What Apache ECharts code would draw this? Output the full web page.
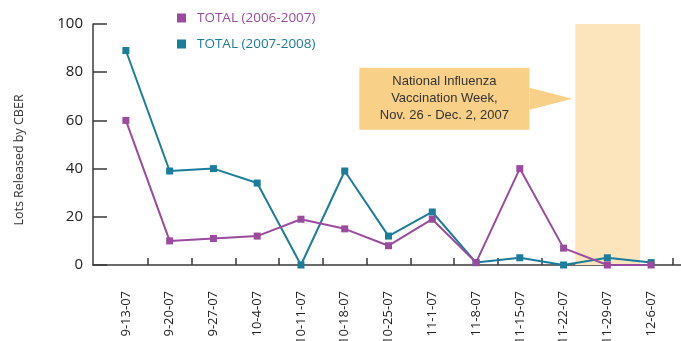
<!DOCTYPE html>
<html>
<head>
<meta charset="utf-8">
<title>Lots Released by CBER</title>
<script src="https://cdn.jsdelivr.net/npm/echarts@6/dist/echarts.min.js"></script>
<style>
    html, body { margin: 0; padding: 0; background: #fff; }
    #chart { width: 681px; height: 341px; }
</style>
</head>
<body>
<div id="chart"></div>
<script>
    var weeks = ['9-13-07', '9-20-07', '9-27-07', '10-4-07', '10-11-07', '10-18-07', '10-25-07',
                 '11-1-07', '11-8-07', '11-15-07', '11-22-07', '11-29-07', '12-6-07'];
    var total0607 = [60, 10, 11, 12, 19, 15, 8, 19, 1, 40, 7, 0, 0];
    var total0708 = [89, 39, 40, 34, 0, 39, 12, 22, 1, 3, 0, 3, 1];
    var yTicks = [0, 20, 40, 60, 80, 100];
    // vaccination week band, in week-index units (0 = 9-13-07)
    var fluWeek = [10.27, 11.75];
    var calloutLines = ['National Influenza', 'Vaccination Week,', 'Nov. 26 - Dec. 2, 2007'];

    var purple = '#9a4b9e';
    var teal = '#1b7d9b';
    var axisColor = '#3a3a3a';
    var font = '"Open Sans", sans-serif';

    var chart = echarts.init(document.getElementById('chart'));
    var option = {
        animation: false,
        legend: {
            orient: 'vertical',
            left: 172,
            top: 6,
            itemWidth: 9,
            itemHeight: 9,
            itemGap: 12,
            icon: 'rect',
            textStyle: { fontFamily: font, fontSize: 13.5, padding: [0, 0, 0, 6] },
            data: [
                { name: 'TOTAL (2006-2007)', textStyle: { color: purple } },
                { name: 'TOTAL (2007-2008)', textStyle: { color: teal } }
            ]
        },
        grid: [
            { left: 104, right: 8, top: 24, bottom: 76, outerBoundsMode: 'none' },
            { left: 93, right: 0, top: 24, bottom: 76, outerBoundsMode: 'none' }
        ],
        xAxis: [{
            type: 'category',
            gridIndex: 0,
            data: weeks,
            boundaryGap: true,
            axisLine: { show: false },
            axisTick: {
                show: true,
                inside: true,
                length: 7,
                interval: function (i) { return i > 0; },
                lineStyle: { color: axisColor, width: 1.5 }
            },
            axisLabel: {
                rotate: 90,
                interval: 0,
                margin: 26,
                color: '#222',
                fontFamily: font,
                fontSize: 13
            }
        }, {
            type: 'value',
            gridIndex: 1,
            min: 0,
            max: 1,
            axisLine: { show: true, onZero: false, lineStyle: { color: axisColor, width: 1.5 } },
            axisTick: { show: false },
            axisLabel: { show: false },
            splitLine: { show: false }
        }],
        yAxis: [{
            type: 'value',
            gridIndex: 0,
            min: 0,
            max: 100,
            show: false
        }, {
            type: 'value',
            gridIndex: 1,
            min: yTicks[0],
            max: yTicks[yTicks.length - 1],
            interval: 20,
            axisLine: { show: true, onZero: false, lineStyle: { color: axisColor, width: 1.5 } },
            axisTick: { show: true, inside: true, length: 14, lineStyle: { color: axisColor, width: 1.5 } },
            axisLabel: { color: '#222', fontFamily: font, fontSize: 15, margin: 10 },
            splitLine: { show: false }
        }],
        series: [{
            name: 'TOTAL (2006-2007)',
            type: 'line',
            xAxisIndex: 0,
            yAxisIndex: 0,
            data: total0607,
            color: purple,
            symbol: 'rect',
            symbolSize: 7,
            lineStyle: { width: 2 },
            z: 3
        }, {
            name: 'TOTAL (2007-2008)',
            type: 'line',
            xAxisIndex: 0,
            yAxisIndex: 0,
            data: total0708,
            color: teal,
            symbol: 'rect',
            symbolSize: 7,
            lineStyle: { width: 2 },
            z: 2
        }]
    };
    chart.setOption(option);

    // map the outer grid's x axis onto week-index units so the band can sit between weeks
    var p0 = chart.convertToPixel({ xAxisIndex: 0, yAxisIndex: 0 }, [0, 0]);
    var p1 = chart.convertToPixel({ xAxisIndex: 0, yAxisIndex: 0 }, [1, 0]);
    var bw = p1[0] - p0[0];
    var outerL = chart.convertToPixel({ xAxisIndex: 1, yAxisIndex: 1 }, [0, 0])[0];
    var outerR = chart.convertToPixel({ xAxisIndex: 1, yAxisIndex: 1 }, [1, 0])[0];
    chart.setOption({
        xAxis: [{}, { min: (outerL - p0[0]) / bw, max: (outerR - p0[0]) / bw }],
        series: [{}, {}, {
            name: 'band',
            type: 'line',
            xAxisIndex: 1,
            yAxisIndex: 1,
            data: [],
            z: 1,
            markArea: {
                silent: true,
                itemStyle: { color: '#fce4bd' },
                data: [[{ xAxis: fluWeek[0], yAxis: 100 }, { xAxis: fluWeek[1], yAxis: 0 }]]
            }
        }]
    });

    // callout box with arrow pointing at the band, and rotated y title
    var tip = chart.convertToPixel({ xAxisIndex: 1, yAxisIndex: 1 }, [fluWeek[0], 69]);
    var boxR = tip[0] - 46, boxL = boxR - 170, boxT = tip[1] - 31, boxB = tip[1] + 31;
    chart.setOption({
        graphic: [{
            type: 'rect',
            shape: { x: boxL, y: boxT, width: boxR - boxL, height: boxB - boxT },
            style: { fill: '#f8d087' },
            z: 10
        }, {
            type: 'polygon',
            shape: { points: [[boxR, tip[1] - 11], [tip[0] - 3, tip[1]], [boxR, tip[1] + 11]] },
            style: { fill: '#f8d087' },
            z: 10
        }, {
            type: 'text',
            x: (boxL + boxR) / 2,
            y: (boxT + boxB) / 2,
            style: {
                text: calloutLines.join('\n'),
                fill: '#333',
                font: '13px "Liberation Sans", Arial, sans-serif',
                lineHeight: 17,
                align: 'center',
                verticalAlign: 'middle'
            },
            z: 11
        }, {
            type: 'text',
            x: 19,
            y: 160,
            rotation: Math.PI / 2,
            style: {
                text: 'Lots Released by CBER',
                fill: '#333',
                font: '12.5px "Open Sans", sans-serif',
                align: 'center',
                verticalAlign: 'middle'
            }
        }]
    });
</script>
</body>
</html>
